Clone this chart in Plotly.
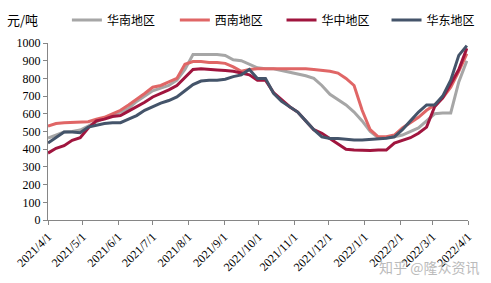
import pandas as pd
import plotly.graph_objects as go

dates = pd.date_range("2021-04-01", periods=53, freq="7D")

huanan = [463, 480, 497, 500, 508, 530, 555, 575, 595, 610, 630, 670, 700, 730, 745, 760,
          790, 850, 935, 935, 935, 935, 930, 905, 900, 880, 860, 855, 855, 845, 835, 825,
          815, 800, 760, 710, 680, 650, 610, 560, 500, 465, 465, 470, 480, 500, 520, 560,
          600, 605, 605, 780, 900]
xinan = [530, 545, 550, 553, 553, 555, 570, 580, 600, 620, 650, 680, 715, 750, 760, 780,
         800, 880, 895, 895, 890, 890, 885, 865, 840, 850, 855, 855, 855, 855, 855, 858,
         855, 850, 845, 840, 830, 800, 760, 620, 510, 470, 470, 480, 520, 550, 580, 620,
         650, 690, 750, 840, 940]
huazhong = [378, 405, 420, 450, 465, 520, 560, 570, 585, 590, 615, 640, 665, 695, 715, 735,
            760, 805, 850, 855, 850, 848, 845, 840, 830, 820, 790, 790, 720, 680, 640, 610,
            560, 510, 490, 460, 430, 400, 395, 393, 393, 395, 395, 435, 450, 465, 490, 525,
            640, 690, 770, 850, 970]
huadong = [435, 465, 497, 497, 493, 525, 535, 545, 550, 550, 570, 590, 620, 640, 660, 675,
           695, 730, 765, 785, 790, 790, 795, 810, 820, 850, 800, 800, 716, 670, 640, 610,
           560, 510, 470, 460, 460, 455, 452, 452, 455, 460, 462, 470, 510, 560, 610, 650,
           650, 700, 790, 930, 985]

series_names = ["华南地区", "西南地区", "华中地区", "华东地区"]
series_vals = [huanan, xinan, huazhong, huadong]
colors = ["#A6A6A6", "#E06666", "#A0153E", "#44546A"]
legend_ids = ["legend", "legend2", "legend3", "legend4"]
legend_x = [0.045, 0.302, 0.556, 0.806]

tick_dates = pd.date_range("2021-04-01", "2022-04-01", freq="MS")
tick_text = [f"{d.year}/{d.month}/{d.day}" for d in tick_dates]
y_ticks = list(range(0, 1001, 100))

fig = go.Figure()
for name, vals, c, lg in zip(series_names, series_vals, colors, legend_ids):
    fig.add_trace(go.Scatter(x=dates, y=vals, mode="lines", name=name, legend=lg,
                             line=dict(color=c, width=3)))

legend_font = dict(family="Noto Sans CJK SC, sans-serif", size=12, color="#000000")
legend_layout = {}
for lg, lx in zip(legend_ids, legend_x):
    legend_layout[lg] = dict(x=lx, y=1.13, xanchor="left", yanchor="middle",
                             orientation="h", font=legend_font,
                             bgcolor="rgba(0,0,0,0)")

axis_font = dict(family="Liberation Serif, Times New Roman, serif", size=12, color="#000000")
fig.update_layout(
    width=491, height=283,
    margin=dict(l=48, r=23, t=43, b=63, autoexpand=False),
    paper_bgcolor="white", plot_bgcolor="white",
    showlegend=True,
    xaxis=dict(range=[pd.Timestamp("2021-04-01"), pd.Timestamp("2022-04-01")],
               tickvals=tick_dates, ticktext=tick_text, tickangle=-45,
               showgrid=False, zeroline=False, showline=True, linecolor="#868686", linewidth=1,
               ticks="outside", ticklen=4, tickcolor="#868686", tickfont=axis_font),
    yaxis=dict(range=[0, 1000], tickvals=y_ticks, showgrid=False, zeroline=False,
               showline=True, linecolor="#868686", linewidth=1,
               ticks="outside", ticklen=4, tickcolor="#868686", tickfont=axis_font),
    annotations=[
        dict(text="元/吨", xref="paper", yref="paper", x=-0.103, y=1.0, yshift=24,
             xanchor="left", yanchor="middle", showarrow=False,
             font=dict(family="Noto Sans CJK SC, sans-serif", size=13, color="#000000")),
        dict(text="知乎 @隆众资讯", xref="paper", yref="paper", x=1.03, y=-0.2,
             xanchor="right", yanchor="top", showarrow=False,
             font=dict(family="Noto Sans CJK SC, sans-serif", size=14, color="#BBBBBB")),
    ],
    **legend_layout,
)
fig.write_html("out.html")
